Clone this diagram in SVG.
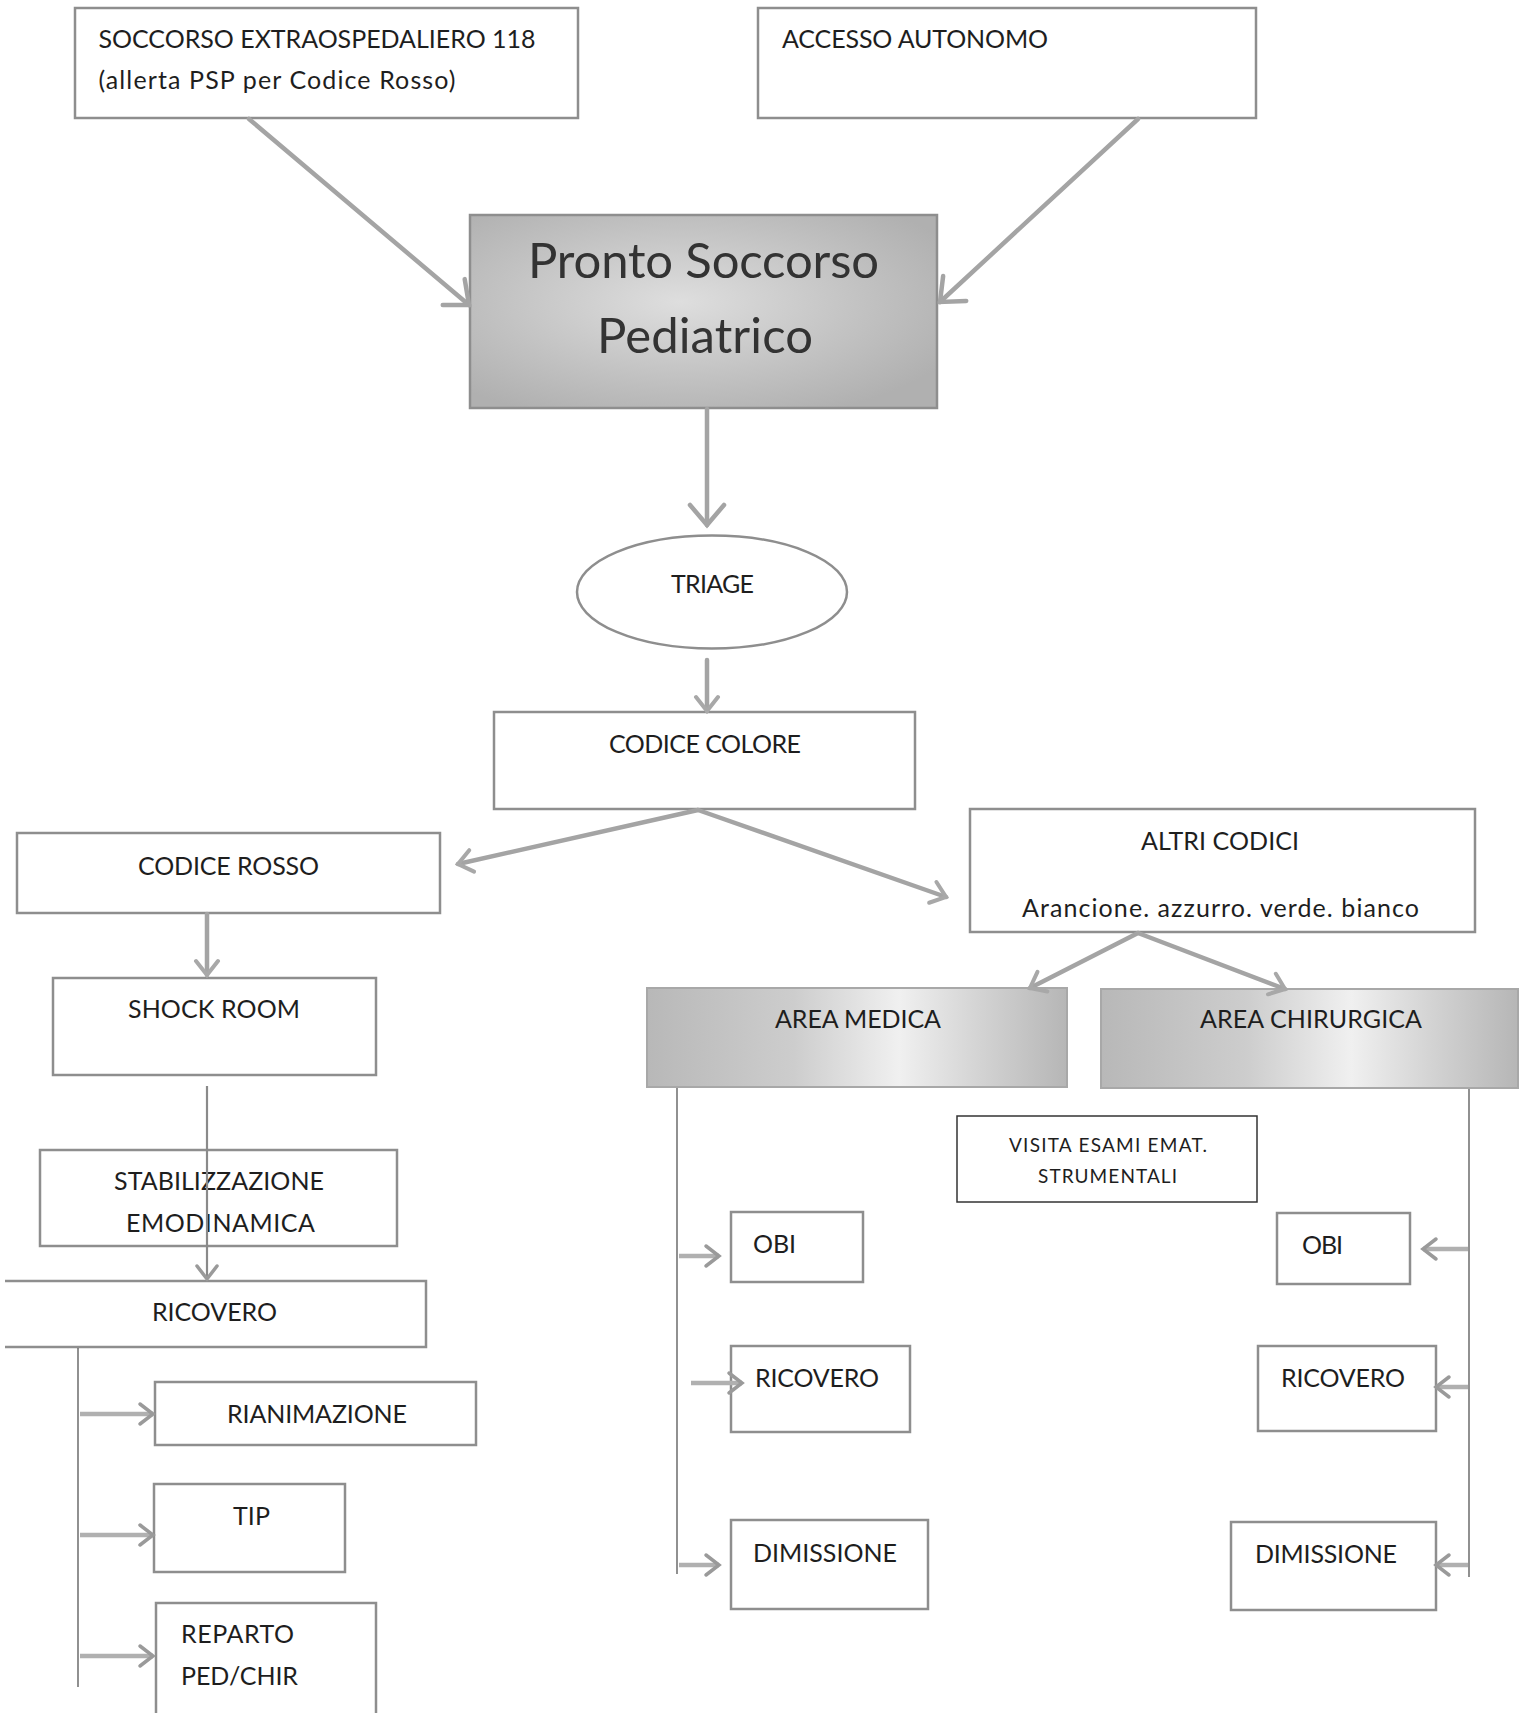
<svg xmlns="http://www.w3.org/2000/svg" width="1527" height="1713" viewBox="0 0 1527 1713">
<style>
.box{fill:#fff;stroke:#8e8e8e;stroke-width:2.5}
.thin{fill:#fff;stroke:#333;stroke-width:1.5}
.lbl{font-family:Lato,"Liberation Sans",sans-serif;font-size:25px;fill:#1e1e1e}
.sm{font-size:19px}
.big{font-size:49px;fill:#333}
.conn{stroke:#a4a4a4;stroke-width:4.5;fill:none;stroke-linecap:round}
.hconn{stroke:#b0b0b0;stroke-width:4.5;fill:none}
.tree{stroke:#555;stroke-width:1.3;fill:none}
.midline{stroke:#8a8a8a;stroke-width:2.2;fill:none}
</style>
<defs>
<marker id="vbig" markerUnits="userSpaceOnUse" viewBox="0 0 40 40" markerWidth="40" markerHeight="40" refX="36" refY="20" orient="auto">
<path d="M16,3 L36,20 L16,37" fill="none" stroke="#a4a4a4" stroke-width="4.5" stroke-linecap="round"/>
</marker>
<marker id="vsm" markerUnits="userSpaceOnUse" viewBox="0 0 30 30" markerWidth="30" markerHeight="30" refX="27" refY="15" orient="auto">
<path d="M13,4 L27,15 L13,26" fill="none" stroke="#a8a8a8" stroke-width="4" stroke-linecap="round"/>
</marker>
<marker id="vthin" markerUnits="userSpaceOnUse" viewBox="0 0 30 30" markerWidth="30" markerHeight="30" refX="27" refY="15" orient="auto">
<path d="M14,5 L27,15 L14,25" fill="none" stroke="#9a9a9a" stroke-width="3.5" stroke-linecap="round"/>
</marker>
<radialGradient id="psg" cx="0.45" cy="0.45" r="0.65">
<stop offset="0" stop-color="#dedede"/>
<stop offset="0.6" stop-color="#c2c2c2"/>
<stop offset="1" stop-color="#b0b0b0"/>
</radialGradient>
<linearGradient id="areag" x1="0" y1="0" x2="1" y2="0">
<stop offset="0" stop-color="#b8b8b8"/>
<stop offset="0.35" stop-color="#cdcdcd"/>
<stop offset="0.6" stop-color="#f0f0f0"/>
<stop offset="0.8" stop-color="#d2d2d2"/>
<stop offset="1" stop-color="#b6b6b6"/>
</linearGradient>
</defs>
<rect width="1527" height="1713" fill="#fff"/>

<g id="soccorso">
<rect class="box" x="75" y="8" width="503" height="110"/>
<text class="lbl" x="98.5" y="47.5" textLength="437">SOCCORSO EXTRAOSPEDALIERO 118</text>
<text class="lbl" x="98.5" y="89" textLength="357">(allerta PSP per Codice Rosso)</text>
</g>
<g id="accesso">
<rect class="box" x="758" y="8" width="498" height="110"/>
<text class="lbl" x="782" y="48" textLength="266">ACCESSO AUTONOMO</text>
</g>
<g id="pronto">
<rect x="470" y="215" width="467" height="193" fill="url(#psg)" stroke="#8e8e8e" stroke-width="2.5"/>
<text class="lbl big" x="528" y="278" textLength="351">Pronto Soccorso</text>
<text class="lbl big" x="597" y="353" textLength="216">Pediatrico</text>
</g>
<g id="triage">
<ellipse cx="712" cy="592" rx="135" ry="56.5" fill="#fff" stroke="#8e8e8e" stroke-width="2.5"/>
<text class="lbl" x="671" y="593" textLength="83">TRIAGE</text>
</g>
<g id="codice-colore">
<rect class="box" x="494" y="712" width="421" height="97"/>
<text class="lbl" x="609" y="753" textLength="192">CODICE COLORE</text>
</g>
<g id="codice-rosso">
<rect class="box" x="17" y="833" width="423" height="80"/>
<text class="lbl" x="138" y="875" textLength="181">CODICE ROSSO</text>
</g>
<g id="altri-codici">
<rect class="box" x="970" y="809" width="505" height="123"/>
<text class="lbl" x="1141" y="850" textLength="158">ALTRI CODICI</text>
<text class="lbl" x="1022" y="917" textLength="397">Arancione. azzurro. verde. bianco</text>
</g>
<g id="shock-room">
<rect class="box" x="53" y="978" width="323" height="97"/>
<text class="lbl" x="128" y="1018" textLength="172">SHOCK ROOM</text>
</g>
<g id="area-medica">
<rect x="647" y="988" width="420" height="99" fill="url(#areag)" stroke="#a8a8a8" stroke-width="2"/>
<text class="lbl" x="775" y="1028" textLength="166">AREA MEDICA</text>
</g>
<g id="area-chirurgica">
<rect x="1101" y="989" width="417" height="99" fill="url(#areag)" stroke="#a8a8a8" stroke-width="2"/>
<text class="lbl" x="1200" y="1028" textLength="222">AREA CHIRURGICA</text>
</g>
<g id="visita">
<rect class="thin" x="957" y="1116" width="300" height="86"/>
<text class="lbl sm" x="1009" y="1152" textLength="198">VISITA ESAMI EMAT.</text>
<text class="lbl sm" x="1038" y="1183" textLength="139">STRUMENTALI</text>
</g>
<g id="stabilizzazione">
<rect class="box" x="40" y="1150" width="357" height="96"/>
<text class="lbl" x="114" y="1190" textLength="210">STABILIZZAZIONE</text>
<text class="lbl" x="126" y="1232" textLength="189">EMODINAMICA</text>
</g>
<g id="ricovero-left">
<path d="M5,1281 H426 V1347 H5" fill="#fff" stroke="#8e8e8e" stroke-width="2.5"/>
<text class="lbl" x="152" y="1321" textLength="125">RICOVERO</text>
</g>
<g id="rianimazione">
<rect class="box" x="155" y="1382" width="321" height="63"/>
<text class="lbl" x="227" y="1423" textLength="180">RIANIMAZIONE</text>
</g>
<g id="tip">
<rect class="box" x="154" y="1484" width="191" height="88"/>
<text class="lbl" x="233" y="1525" textLength="37">TIP</text>
</g>
<g id="reparto">
<rect class="box" x="156" y="1603" width="220" height="130"/>
<text class="lbl" x="181" y="1643" textLength="113">REPARTO</text>
<text class="lbl" x="181" y="1685" textLength="117">PED/CHIR</text>
</g>
<g id="obi-medica">
<rect class="box" x="731" y="1212" width="132" height="70"/>
<text class="lbl" x="753" y="1253" textLength="43">OBI</text>
</g>
<g id="ricovero-medica">
<rect class="box" x="731" y="1346" width="179" height="86"/>
<text class="lbl" x="755" y="1387" textLength="124">RICOVERO</text>
</g>
<g id="dimissione-medica">
<rect class="box" x="731" y="1520" width="197" height="89"/>
<text class="lbl" x="753" y="1562" textLength="144">DIMISSIONE</text>
</g>
<g id="obi-chirurgica">
<rect class="box" x="1277" y="1213" width="133" height="71"/>
<text class="lbl" x="1302" y="1254" textLength="41">OBI</text>
</g>
<g id="ricovero-chirurgica">
<rect class="box" x="1258" y="1346" width="178" height="85"/>
<text class="lbl" x="1281" y="1387" textLength="124">RICOVERO</text>
</g>
<g id="dimissione-chirurgica">
<rect class="box" x="1231" y="1522" width="205" height="88"/>
<text class="lbl" x="1255" y="1563" textLength="142">DIMISSIONE</text>
</g>

<g id="connectors">
<line class="conn" x1="249" y1="119" x2="469" y2="305" marker-end="url(#vbig)"/>
<line class="conn" x1="1138" y1="119" x2="940" y2="302" marker-end="url(#vbig)"/>
<line class="conn" x1="707" y1="409" x2="707" y2="525" marker-end="url(#vbig)"/>
<line class="conn" x1="707" y1="660" x2="707" y2="711" marker-end="url(#vsm)"/>
<line class="conn" x1="698" y1="810" x2="458" y2="864" marker-end="url(#vsm)"/>
<line class="conn" x1="698" y1="810" x2="946" y2="897" marker-end="url(#vsm)"/>
<line class="conn" x1="207" y1="914" x2="207" y2="975" marker-end="url(#vsm)"/>
<line class="midline" x1="207" y1="1086" x2="207" y2="1279" marker-end="url(#vthin)"/>
<line class="conn" x1="1138" y1="933" x2="1030" y2="988" marker-end="url(#vsm)"/>
<line class="conn" x1="1138" y1="933" x2="1285" y2="989" marker-end="url(#vsm)"/>
<path class="tree" d="M78,1348 V1687"/>
<line class="hconn" x1="80" y1="1414" x2="153" y2="1414" marker-end="url(#vthin)"/>
<line class="hconn" x1="80" y1="1535" x2="153" y2="1535" marker-end="url(#vthin)"/>
<line class="hconn" x1="80" y1="1656" x2="153" y2="1656" marker-end="url(#vthin)"/>
<path class="tree" d="M677,1088 V1574"/>
<line class="hconn" x1="679" y1="1256" x2="719" y2="1256" marker-end="url(#vthin)"/>
<line class="hconn" x1="691" y1="1383" x2="742" y2="1383" marker-end="url(#vthin)"/>
<line class="hconn" x1="679" y1="1565" x2="719" y2="1565" marker-end="url(#vthin)"/>
<path class="tree" d="M1469,1089 V1577"/>
<line class="hconn" x1="1468" y1="1249" x2="1423" y2="1249" marker-end="url(#vthin)"/>
<line class="hconn" x1="1468" y1="1387" x2="1436" y2="1387" marker-end="url(#vthin)"/>
<line class="hconn" x1="1468" y1="1565" x2="1436" y2="1565" marker-end="url(#vthin)"/>
</g>
</svg>
